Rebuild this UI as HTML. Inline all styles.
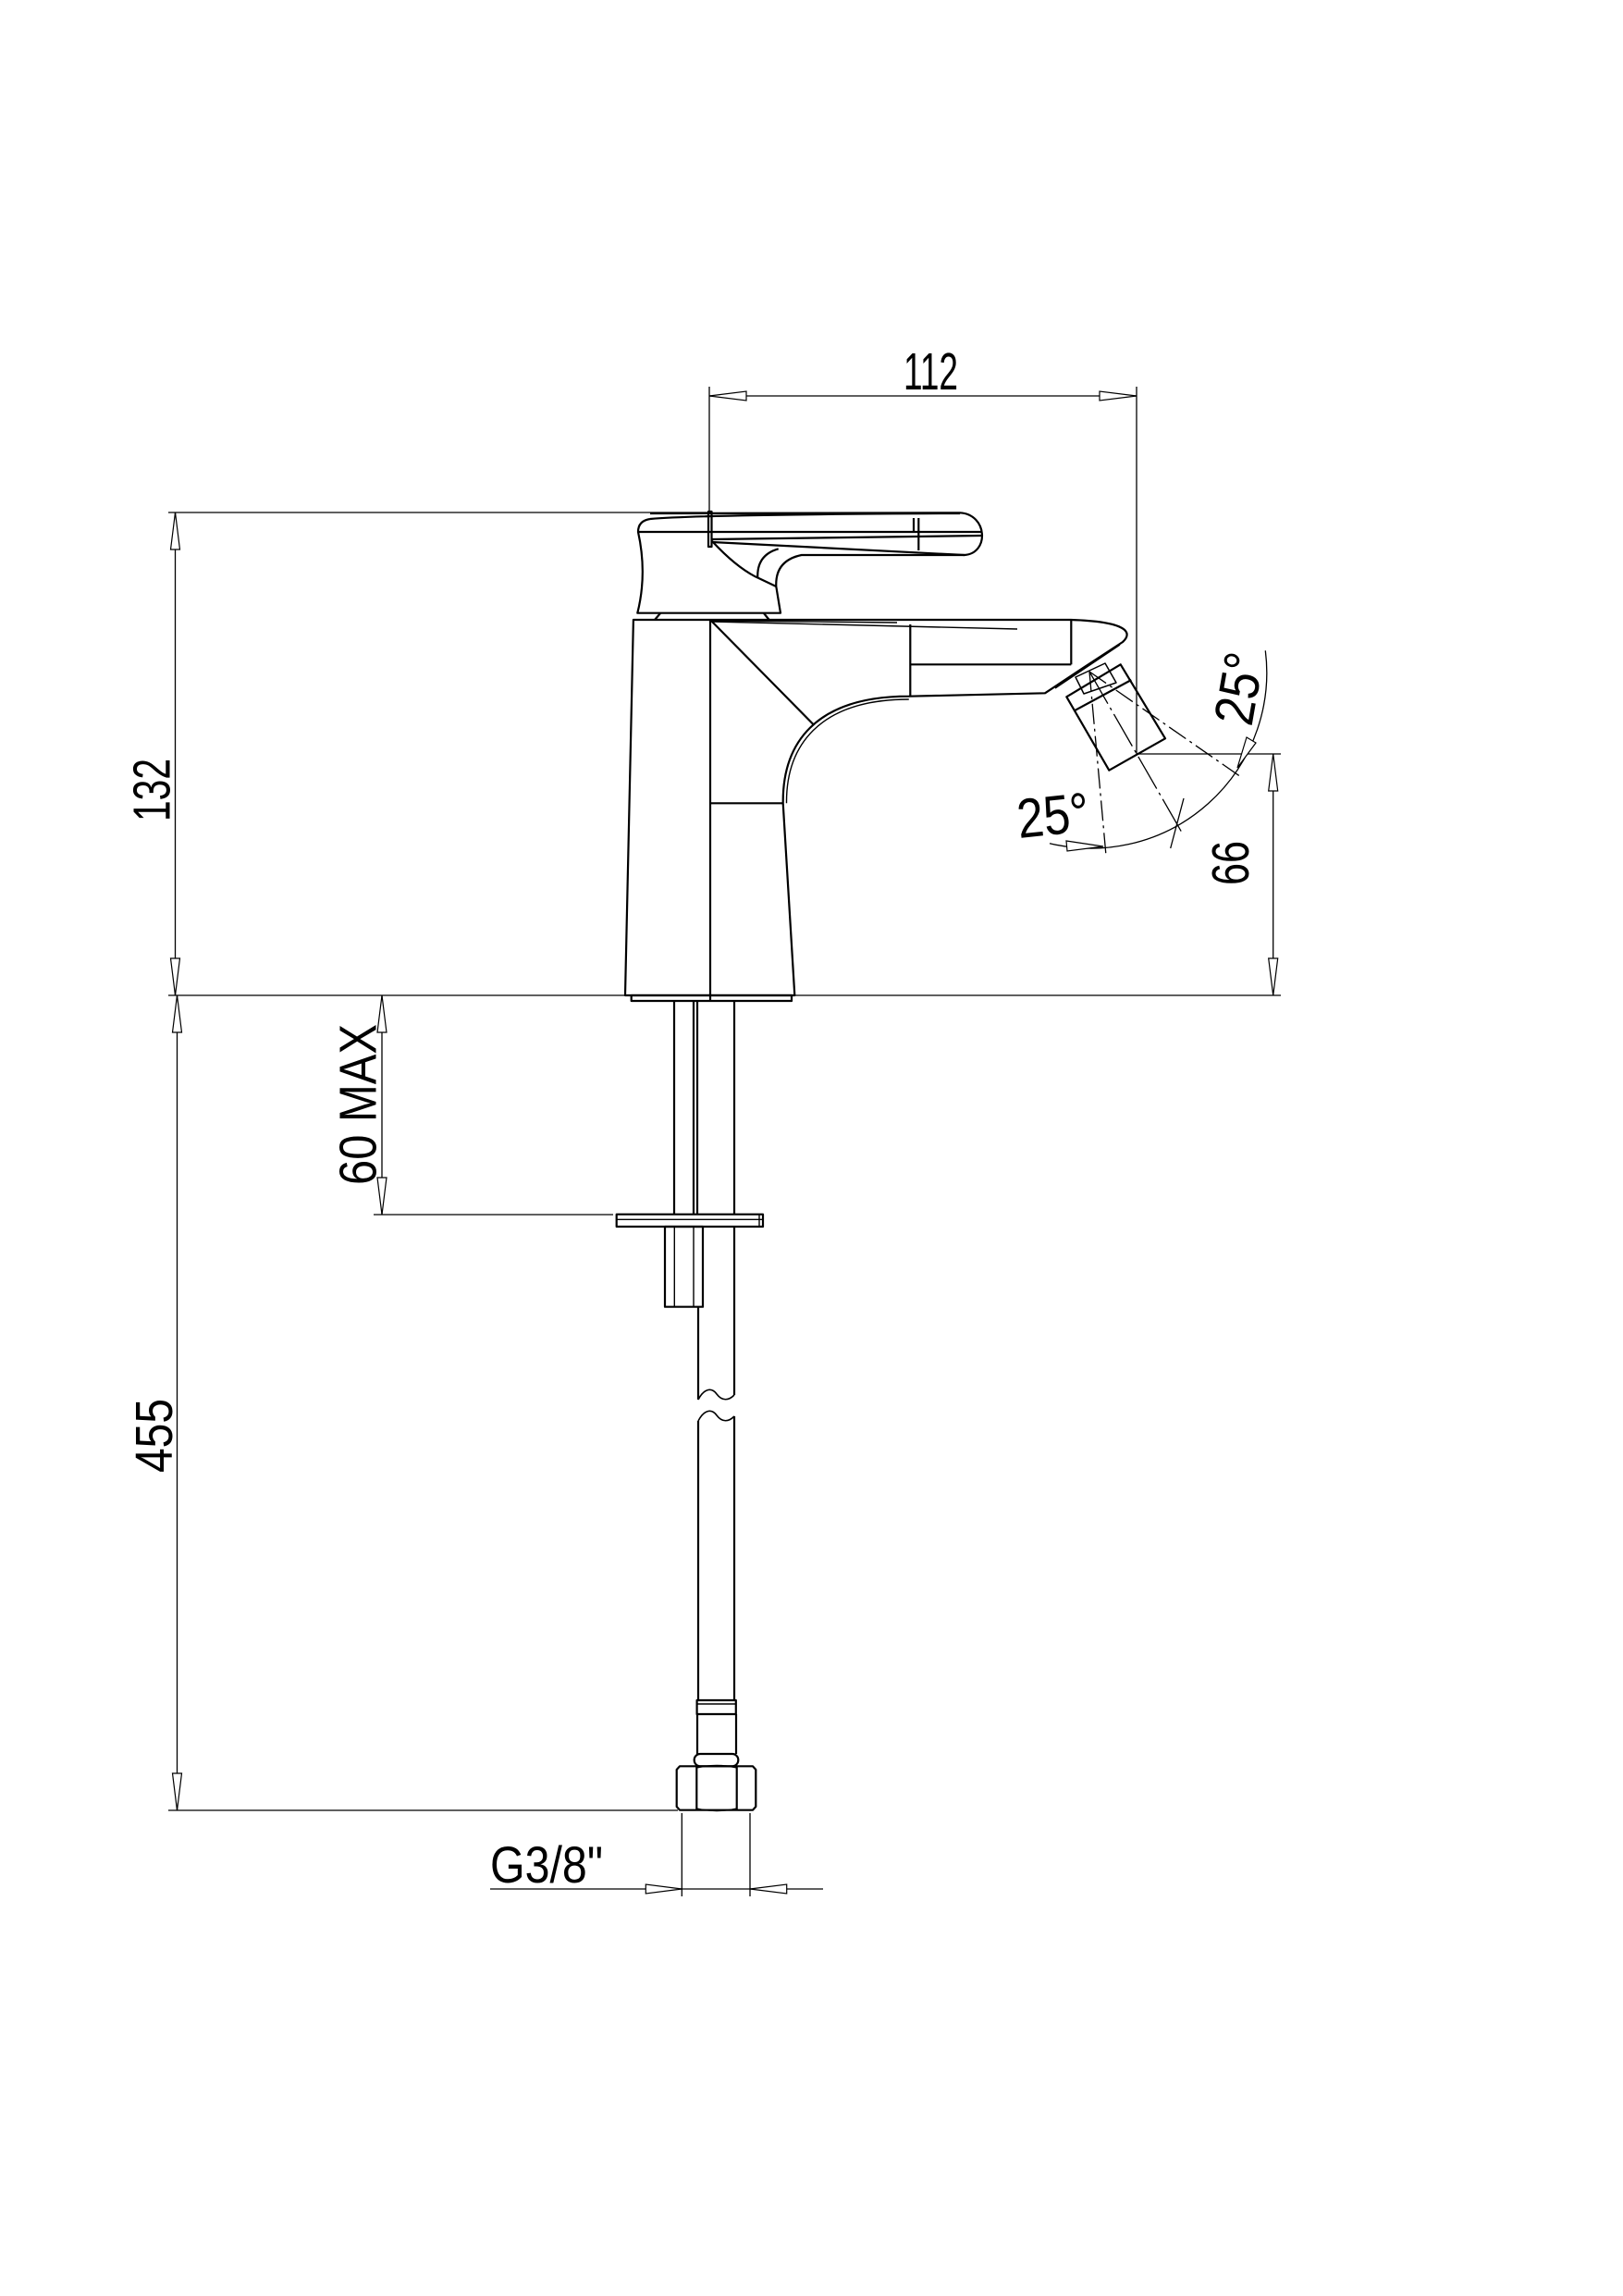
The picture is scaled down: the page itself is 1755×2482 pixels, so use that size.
<!DOCTYPE html>
<html><head><meta charset="utf-8"><style>
html,body{margin:0;padding:0;background:#fff}
svg{display:block}
text{font-family:"Liberation Sans",sans-serif;fill:#000}
</style></head><body>
<svg width="1755" height="2482" viewBox="0 0 1755 2482" xmlns="http://www.w3.org/2000/svg">
<rect width="1755" height="2482" fill="#fff"/>
<!-- dimension / thin lines -->
<g stroke="#000" stroke-width="1.3" fill="none">
  <!-- 112 -->
  <line x1="767" y1="418" x2="767" y2="552"/>
  <line x1="1229" y1="418" x2="1229" y2="815"/>
  <line x1="767" y1="428" x2="1229" y2="428"/>
  <!-- 132 top ext -->
  <line x1="182" y1="554" x2="765" y2="554"/>
  <line x1="189.5" y1="554" x2="189.5" y2="1076"/>
  <!-- ground -->
  <line x1="182" y1="1076" x2="676" y2="1076"/>
  <line x1="860" y1="1076" x2="1385" y2="1076"/>
  <!-- 455 -->
  <line x1="191.5" y1="1076" x2="191.5" y2="1957"/>
  <line x1="182" y1="1957" x2="733" y2="1957"/>
  <!-- 60 MAX -->
  <line x1="413" y1="1076" x2="413" y2="1313"/>
  <line x1="404" y1="1313" x2="663" y2="1313"/>
  <!-- 66 -->
  <line x1="1229" y1="815" x2="1385" y2="815"/>
  <line x1="1376.7" y1="815" x2="1376.7" y2="1076"/>
  <!-- G3/8 -->
  <line x1="737.3" y1="1960" x2="737.3" y2="2050"/>
  <line x1="811" y1="1960" x2="811" y2="2050"/>
  <line x1="530" y1="2042" x2="890" y2="2042"/>
  <!-- angle arc -->
  <path d="M1135,911.7 A190,190 0 0 0 1368.3,703.3"/>
  <line x1="1178" y1="726" x2="1196" y2="925" stroke-dasharray="22,5,3,5"/>
  <line x1="1178" y1="726" x2="1342" y2="840" stroke-dasharray="22,5,3,5"/>
  <line x1="1178" y1="726" x2="1278" y2="900" stroke-dasharray="40,5,3,5"/>
  <line x1="1280" y1="863" x2="1265.7" y2="917"/>
</g>
<!-- arrowheads -->
<g stroke="#000" stroke-width="1.2" fill="#fff">
  <polygon points="767,428 807,423 807,433"/>
  <polygon points="1229,428 1189,423 1189,433"/>
  <polygon points="189.5,554 184.5,594 194.5,594"/>
  <polygon points="189.5,1076 184.5,1036 194.5,1036"/>
  <polygon points="191.5,1076 186.5,1116 196.5,1116"/>
  <polygon points="191.5,1957 186.5,1917 196.5,1917"/>
  <polygon points="413,1076 408,1116 418,1116"/>
  <polygon points="413,1313 408,1273 418,1273"/>
  <polygon points="1376.7,815 1371.7,855 1381.7,855"/>
  <polygon points="1376.7,1076 1371.7,1036 1381.7,1036"/>
  <polygon points="737.3,2042 698.3,2037 698.3,2047"/>
  <polygon points="811,2042 850.7,2037 850.7,2047"/>
  <polygon points="1193,915 1153,909 1154,920"/>
  <polygon points="1338,830 1348,797 1358,803"/>
</g>
<!-- object lines -->
<g stroke="#000" stroke-width="2.2" fill="none" stroke-linejoin="round">
  <!-- handle -->
  <path d="M703,555 L1038,554.3 C1068,556 1070,598 1043,600 L866.7,600 Q838,606 839.3,634 L844,662.7 L689.3,662.7 Q700,620 690,575 Q690,563 703,561"/>
  <line x1="690" y1="575" x2="1061" y2="575"/>
  <path d="M703,561 Q760,556 1038,555"/>
  <line x1="770" y1="583" x2="1061" y2="579"/>
  <line x1="770" y1="586" x2="1043" y2="600"/>
  <line x1="993.3" y1="560" x2="993.3" y2="595"/>
  <line x1="988" y1="560" x2="988" y2="575"/>
  <rect x="766" y="553" width="3.5" height="38"/>
  <path d="M770,585 Q795,612 816.7,623.3 L839.3,634"/>
  <path d="M819.3,625 Q818,600 841.7,593.3"/>
  <!-- gasket -->
  <path d="M708,670 L714,663 M826,663 L831.7,670"/>
  <!-- body -->
  <path d="M684.9,670 L676,1076 L859.3,1076 L846.7,868.3 C846,805 880,752.7 982.8,752.7 L1130,749.3 L1171.7,721.7 L1214,694 C1225,684 1220,672 1158,670 L684.9,670 Z"/>
  <path d="M850.5,868.3 C850,808 884,756 982.8,756" stroke-width="1.4"/>
  <line x1="768" y1="670" x2="768" y2="1082"/>
  <line x1="768" y1="670" x2="880" y2="783.6"/>
  <line x1="768" y1="868.3" x2="846.7" y2="868.3"/>
  <line x1="770" y1="671" x2="970" y2="673" stroke-width="1.4"/>
  <line x1="770" y1="672" x2="1100" y2="680" stroke-width="1.4"/>
  <line x1="984.3" y1="675" x2="984.3" y2="752.7"/>
  <line x1="984.3" y1="718.3" x2="1158.3" y2="718.3"/>
  <line x1="1158.3" y1="670" x2="1158.3" y2="718.3"/>
  <line x1="1141" y1="744" x2="1211" y2="697" stroke-width="1.4"/>
  <!-- aerator -->
  <polygon points="1153.3,753.3 1211.7,718.3 1260,798.3 1199.3,832.7"/>
  <line x1="1161.7" y1="768.3" x2="1223.3" y2="735"/>
  <polygon points="1163,732 1195,717 1207,738 1172,750" stroke-width="1.5"/>
  <!-- base plate -->
  <rect x="682.7" y="1076" width="173.3" height="6"/>
  <!-- rods -->
  <line x1="729" y1="1082" x2="729" y2="1313"/>
  <line x1="750" y1="1082" x2="750" y2="1313"/>
  <line x1="754" y1="1082" x2="754" y2="1313"/>
  <line x1="794" y1="1082" x2="794" y2="1313"/>
  <!-- washer -->
  <rect x="666.7" y="1312.7" width="158.3" height="13.3"/>
  <line x1="666.7" y1="1318.3" x2="825" y2="1318.3" stroke-width="1.4"/>
  <line x1="821" y1="1312.7" x2="821" y2="1326" stroke-width="1.4"/>
  <!-- tube -->
  <rect x="719" y="1326" width="41" height="86.7"/>
  <line x1="729.3" y1="1326" x2="729.3" y2="1412.7" stroke-width="1.4"/>
  <line x1="750" y1="1326" x2="750" y2="1412.7" stroke-width="1.4"/>
  <!-- pipe -->
  <line x1="755" y1="1412.7" x2="755" y2="1513"/>
  <line x1="794" y1="1326" x2="794" y2="1508"/>
  <path d="M755,1513 C762,1500 770,1500 775,1507 C781,1515 788,1514 794,1508" stroke-width="1.6"/>
  <path d="M755,1536 C762,1523 770,1523 775,1530 C781,1538 788,1537 794,1531" stroke-width="1.6"/>
  <line x1="755" y1="1536" x2="755" y2="1838"/>
  <line x1="794" y1="1531" x2="794" y2="1838"/>
  <!-- ferrule -->
  <rect x="753.6" y="1838" width="42.2" height="15"/>
  <line x1="753.6" y1="1842" x2="795.8" y2="1842" stroke-width="1.4"/>
  <line x1="754" y1="1853" x2="754" y2="1896"/>
  <line x1="796" y1="1853" x2="796" y2="1896"/>
  <rect x="750.7" y="1896" width="47.6" height="13.3" rx="6.5"/>
  <!-- nut -->
  <path d="M735,1909.3 L814,1909.3 L817.3,1913 L817.3,1953 L814,1956.7 L735,1956.7 L731.7,1953 L731.7,1913 Z"/>
  <line x1="753.3" y1="1910" x2="753.3" y2="1956"/>
  <line x1="796.7" y1="1910" x2="796.7" y2="1956"/>
  <path d="M753.3,1911 Q775,1906 796.7,1911 M753.3,1955 Q775,1960 796.7,1955" stroke-width="1.4"/>
</g>
<!-- texts -->
<text x="977" y="421" font-size="57" textLength="59" lengthAdjust="spacingAndGlyphs">112</text>
<text transform="translate(183.5,854) rotate(-90)" text-anchor="middle" font-size="57" textLength="68" lengthAdjust="spacingAndGlyphs">132</text>
<text transform="translate(186,1552) rotate(-90)" text-anchor="middle" font-size="57" textLength="80" lengthAdjust="spacingAndGlyphs">455</text>
<text transform="translate(406.7,1194) rotate(-90)" text-anchor="middle" font-size="57" textLength="174" lengthAdjust="spacingAndGlyphs">60 MAX</text>
<text transform="translate(1350,933) rotate(-90)" text-anchor="middle" font-size="57" textLength="48" lengthAdjust="spacingAndGlyphs">66</text>
<text x="530" y="2035" font-size="56" textLength="122" lengthAdjust="spacingAndGlyphs">G3/8"</text>
<text transform="translate(1102,906) rotate(-6)" font-size="60" textLength="78" lengthAdjust="spacingAndGlyphs">25°</text>
<text transform="translate(1360,748) rotate(-80)" text-anchor="middle" font-size="60" textLength="78" lengthAdjust="spacingAndGlyphs">25°</text>
</svg>
</body></html>
